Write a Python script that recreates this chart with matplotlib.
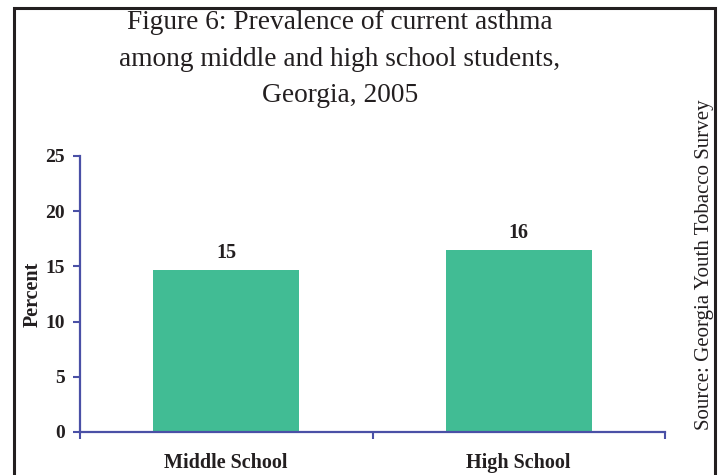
import matplotlib
matplotlib.use("Agg")
import matplotlib.pyplot as plt
from matplotlib.patches import Rectangle

categories = ["Middle School", "High School"]
values = [14.7, 16.5]
yticks = [0, 5, 10, 15, 20, 25]

title = "Figure 6: Prevalence of current asthma\namong middle and high school students,\nGeorgia, 2005"
source = "Source: Georgia Youth Tobacco Survey"

bar_color = "#41bc94"
axis_color = "#4a50a6"
text_color = "#231f20"
serif = ["Liberation Serif", "DejaVu Serif"]

fig = plt.figure(figsize=(7.19, 4.75), dpi=100)
fig.patch.set_facecolor("white")

# frame around the figure (bottom edge runs off the canvas)
fig.add_artist(Rectangle((14 / 719, -0.05), (715 - 14) / 719, 1.05 - 8 / 475,
                         transform=fig.transFigure, fill=False,
                         edgecolor=text_color, linewidth=2.2, clip_on=False))

ax = fig.add_axes([80 / 719, 1 - 432 / 475, (665 - 80) / 719, (432 - 156) / 475])
x = list(range(len(categories)))
bars = ax.bar(x, values, width=0.5, color=bar_color, zorder=2)

for b, v in zip(bars, values):
    ax.text(b.get_x() + b.get_width() / 2, v + 0.6, f"{v:.0f}",
            ha="center", va="bottom", fontsize=14.5, fontweight="bold",
            family=serif, color=text_color)

ax.set_xlim(-0.5, len(categories) - 0.5)
ax.set_ylim(0, 25)
ax.set_yticks(yticks)
ax.set_yticklabels([str(t) for t in yticks], fontsize=14, fontweight="bold",
                   family=serif, color=text_color)

# x ticks sit on the category boundaries, labels at the category centres
ax.set_xticks([i - 0.5 for i in range(len(categories) + 1)])
ax.set_xticklabels([])
ax.set_xticks(x, minor=True)
ax.set_xticklabels(categories, minor=True, fontsize=14.5, fontweight="bold",
                   family=serif, color=text_color)
ax.tick_params(axis="x", which="minor", length=0, pad=15)
ax.tick_params(axis="x", which="major", length=5, width=1.5, color=axis_color)
ax.tick_params(axis="y", length=5, width=1.5, color=axis_color, pad=6)

for side in ("top", "right"):
    ax.spines[side].set_visible(False)
for side in ("left", "bottom"):
    ax.spines[side].set_color(axis_color)
    ax.spines[side].set_linewidth(1.6)

ax.set_ylabel("Percent", fontsize=14.5, fontweight="bold", family=serif,
              color=text_color, labelpad=2)

fig.text(340 / 719, 1 - 59 / 475, title, ha="center", va="center",
         fontsize=19.7, family=serif, color=text_color, linespacing=1.6)
fig.text(704 / 719, 1 - 265 / 475, source, ha="center", va="center",
         rotation=90, fontsize=15, family=serif, color=text_color)

fig.savefig("out.png", dpi=100, facecolor="white")
